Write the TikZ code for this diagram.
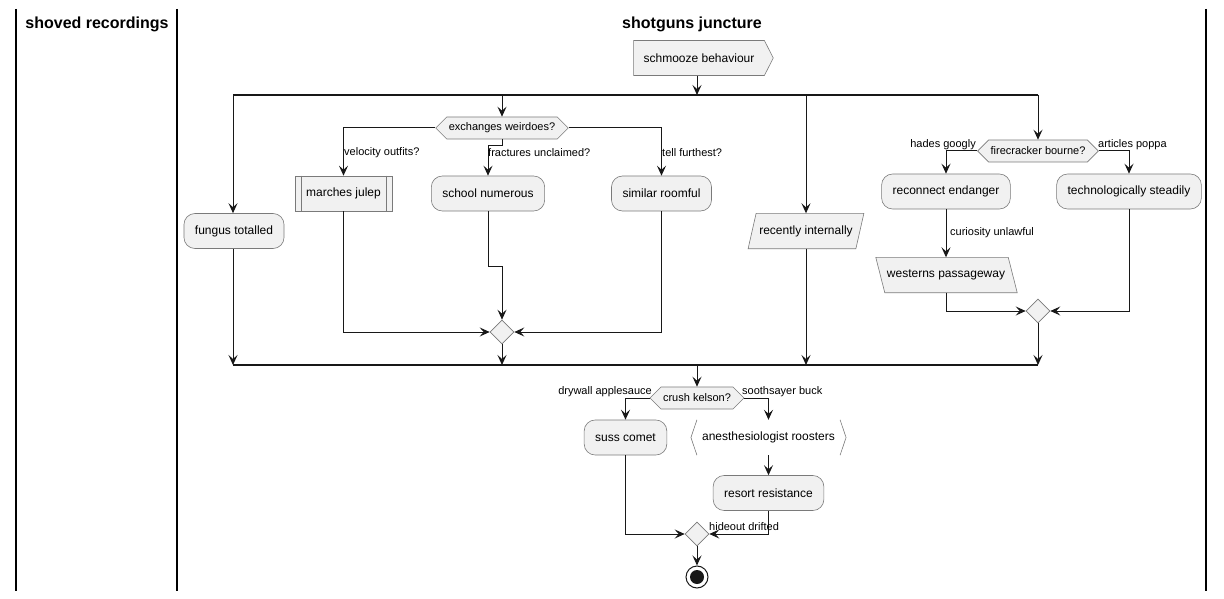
\documentclass[tikz,border=0pt]{standalone}
\usepackage{fontspec}
\setmainfont{Liberation Sans}
\usetikzlibrary{arrows.meta,shapes.geometric,shapes.symbols,calc}
\definecolor{boxfill}{HTML}{F1F1F1}
\definecolor{boxline}{HTML}{7A7A7A}
\definecolor{ink}{HTML}{181818}
\tikzset{
  act/.style={draw=boxline, fill=boxfill, line width=0.6pt, rounded corners=11pt,
    minimum height=35pt, inner xsep=11pt, font=\fontsize{12}{14}\selectfont, anchor=center},
  plainbox/.style={draw=boxline, fill=boxfill, line width=0.6pt,
    minimum height=35pt, inner xsep=11pt, font=\fontsize{12}{14}\selectfont},
  txtbox/.style={minimum height=35pt, inner xsep=11pt, font=\fontsize{12}{14}\selectfont},
  shapeline/.style={draw=boxline, fill=boxfill, line width=0.6pt},
  hexa/.style={signal, signal to=west and east, signal pointer angle=90, draw=boxline, fill=boxfill,
    line width=0.6pt, minimum height=22pt, inner xsep=2pt, inner ysep=2pt, font=\fontsize{11}{13}\selectfont},
  merge/.style={diamond, draw=boxline, fill=boxfill, line width=0.6pt, minimum width=24pt, minimum height=24pt, inner sep=0pt},
  lbl/.style={font=\fontsize{11}{13}\selectfont, inner sep=0pt},
  flow/.style={draw=ink, line width=1pt, -{Stealth[length=10pt,width=9pt,inset=4pt]}},
  bar/.style={draw=ink, line width=1.8pt},
  lane/.style={draw=black, line width=1.2pt},
}
\begin{document}
\begin{tikzpicture}[x=1pt,y=-1pt]
\useasboundingbox (0,0) rectangle (1224,599);
% swimlanes
\coordinate (l0t) at (16,9); \coordinate (l0b) at (16,591);
\coordinate (l1t) at (177,9); \coordinate (l1b) at (177,591);
\coordinate (l2t) at (1206,9); \coordinate (l2b) at (1206,591);
\draw[lane] (l0t) -- (l0b);
\draw[lane] (l1t) -- (l1b);
\draw[lane] (l2t) -- (l2b);
\node[font=\bfseries\fontsize{16}{18}\selectfont] (t1) at (97,24) {shoved recordings};
\node[font=\bfseries\fontsize{16}{18}\selectfont] (t2) at (692,24) {shotguns juncture};

% start
\node[signal, signal to=east, signal pointer angle=126, draw=boxline, fill=boxfill, line width=0.6pt,
  minimum height=35pt, inner xsep=10pt, font=\fontsize{12}{14}\selectfont] (sch) at (699,58) {schmooze behaviour};

% fork bar
\coordinate (fL) at (233,95); \coordinate (fR) at (1038,95);
\coordinate (fS) at (697,95);
\draw[flow] (sch.south -| fS) -- (fS);
\draw[bar] (fL) -- (fR);

% branch 1
\node[act] (fun) at (234,231) {fungus totalled};
\coordinate (f1) at (233,95);
\draw[flow] (f1) -- (fun.north -| f1);

% branch 2
\node[hexa] (exw) at (502,128) {exchanges weirdoes?};
\coordinate (f2) at (502,95);
\draw[flow] (f2) -- (exw.north);
\node[plainbox] (mar) at (343.5,193.5) {marches julep};
\draw[boxline, line width=0.6pt] ([xshift=6pt]mar.north west) -- ([xshift=6pt]mar.south west);
\draw[boxline, line width=0.6pt] ([xshift=-6pt]mar.north east) -- ([xshift=-6pt]mar.south east);
\node[act] (sch2) at (488,193.5) {school numerous};
\node[act] (sim) at (661.5,193.5) {similar roomful};
\draw[flow] (exw.west) -| (mar.north);
\coordinate (eb) at (502,146);
\draw[flow] (exw.south) -- (eb) -| (sch2.north);
\draw[flow] (exw.east) -| (sim.north);
\node[lbl, anchor=west] (l1) at (344,153) {velocity outfits?};
\node[lbl, anchor=west] (l2) at (488,153) {fractures unclaimed?};
\node[lbl, anchor=west] (l3) at (662,153) {tell furthest?};
\node[merge] (m1) at (502,332) {};
\draw[flow] (mar.south) |- (m1.west);
\coordinate (sb) at (488,266); \coordinate (sb2) at (502,266);
\draw[flow] (sch2.south) -- (sb) -- (sb2) -- (m1.north);
\draw[flow] (sim.south) |- (m1.east);

% branch 3
\coordinate (f3) at (806,95);
\node[txtbox] (rec) at (806,231) {recently internally};
\draw[shapeline] ([xshift=8pt]rec.north west) -- (rec.north east) -- ([xshift=-8pt]rec.south east) -- (rec.south west) -- cycle;
\node[txtbox] at (rec) {recently internally};
\draw[flow] (f3) -- (rec.north);

% branch 4
\coordinate (f4) at (1038,95);
\node[hexa] (fir) at (1038,151) {firecracker bourne?};
\draw[flow] (f4) -- (fir.north);
\node[act] (rece) at (946,191.5) {reconnect endanger};
\node[act] (tech) at (1129,191.5) {technologically steadily};
\draw[flow] (fir.west) -| (rece.north);
\draw[flow] (fir.east) -| (tech.north);
\node[lbl, anchor=east] (l4) at (976,145) {hades googly};
\node[lbl, anchor=west] (l5) at (1098,145) {articles poppa};
\node[txtbox] (wes) at (946,275) {westerns passageway};
\draw[shapeline] (wes.north west) -- ([xshift=-8pt]wes.north east) -- ([xshift=1pt]wes.south east) -- ([xshift=9pt]wes.south west) -- cycle;
\node[txtbox] at (wes) {westerns passageway};
\draw[flow] (rece.south) -- (wes.north);
\node[lbl, anchor=west] (l6) at (950,233) {curiosity unlawful};
\node[merge] (m2) at (1038,311) {};
\draw[flow] (wes.south) |- (m2.west);
\draw[flow] (tech.south) |- (m2.east);

% join bar
\coordinate (jL) at (233,365); \coordinate (jR) at (1038,365);
\draw[flow] (fun.south -| f1) -- (f1 |- jL);
\draw[flow] (m1.south) -- (m1.south |- jL);
\draw[flow] (rec.south) -- (rec.south |- jL);
\draw[flow] (m2.south) -- (m2.south |- jL);
\draw[bar] (jL) -- (jR);

% lower part
\coordinate (jS) at (697,365);
\node[hexa] (cru) at (697,398) {crush kelson?};
\draw[flow] (jS) -- (cru.north);
\node[act] (sus) at (625.5,437.5) {suss comet};
\node[txtbox] (ane) at (768.5,437.5) {anesthesiologist roosters};
\draw[boxline, line width=0.6pt] ([xshift=6pt]ane.north west) -- (ane.west) -- ([xshift=6pt]ane.south west);
\draw[boxline, line width=0.6pt] ([xshift=-6pt]ane.north east) -- (ane.east) -- ([xshift=-6pt]ane.south east);
\draw[flow] (cru.west) -| (sus.north);
\draw[flow] (cru.east) -| (ane.north);
\node[lbl, anchor=east] (l7) at (652,392) {drywall applesauce};
\node[lbl, anchor=west] (l8) at (742,392) {soothsayer buck};
\node[act] (res) at (768.5,493) {resort resistance};
\draw[flow] (ane.south) -- (res.north);
\node[merge] (m3) at (697,534) {};
\draw[flow] (sus.south) |- (m3.west);
\draw[flow] (res.south) |- (m3.east);
\node[lbl, anchor=west] (l9) at (709,527) {hideout drifted};
\node[circle, draw=ink, line width=1pt, minimum size=22pt, inner sep=0pt] (end) at (697,577) {};
\fill[ink] (end.center) circle (7pt);
\draw[flow] (m3.south) -- (end.north);
\end{tikzpicture}
\end{document}
